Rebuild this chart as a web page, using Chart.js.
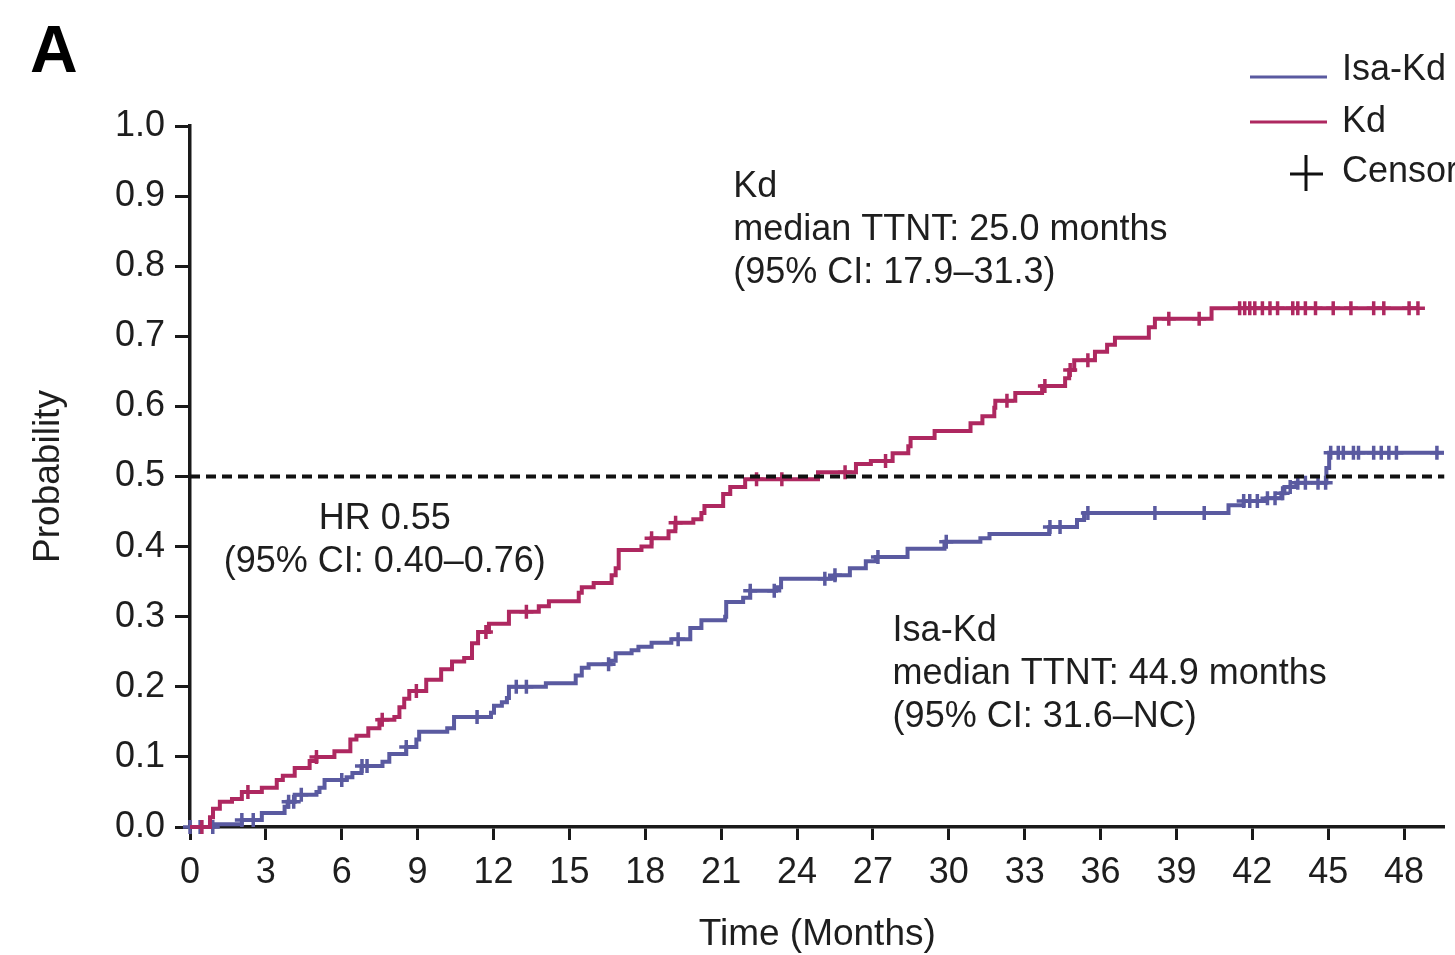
<!DOCTYPE html>
<html>
<head>
<meta charset="utf-8">
<script src="https://cdn.jsdelivr.net/npm/chart.js@4.4.1/dist/chart.umd.min.js"></script>
<style>
  html, body { margin: 0; background: #fff; }
</style>
</head>
<body>
<canvas id="grafico" width="1455" height="955"></canvas>
<script>
// tempos (meses) e probabilidade acumulada
const kdTempo = [0, 0.79, 0.91, 1.18, 1.66, 2.05, 2.84, 3.43, 3.67, 4.14, 4.73, 5.0, 5.71, 6.34, 6.58, 7.05, 7.49, 8.08, 8.28, 8.47,
  8.67, 9.34, 9.93, 10.36, 10.84, 11.15, 11.39, 11.82, 12.61, 13.79, 14.19, 15.37, 15.49, 15.96, 16.67, 16.83, 16.95, 17.85, 18.25, 18.92,
  19.19, 19.90, 20.22, 20.34, 21.08, 21.36, 21.95, 24.83, 26.33, 26.92, 27.78, 28.40, 28.49, 29.44, 30.86, 31.33, 31.80, 31.84, 32.63, 33.69,
  34.60, 34.76, 34.96, 35.78, 36.26, 36.57, 37.91, 38.15, 40.39, 48.55];
const kdProb = [0, 0.014, 0.026, 0.036, 0.040, 0.050, 0.056, 0.067, 0.073, 0.084, 0.094, 0.100, 0.108, 0.125, 0.130, 0.141, 0.153, 0.157, 0.171, 0.183,
  0.194, 0.210, 0.225, 0.236, 0.241, 0.262, 0.278, 0.290, 0.307, 0.315, 0.322, 0.334, 0.342, 0.348, 0.359, 0.369, 0.395, 0.400, 0.412, 0.422,
  0.434, 0.439, 0.448, 0.458, 0.475, 0.485, 0.496, 0.506, 0.518, 0.522, 0.533, 0.543, 0.555, 0.565, 0.576, 0.586, 0.598, 0.608, 0.619, 0.629,
  0.640, 0.652, 0.666, 0.678, 0.688, 0.698, 0.713, 0.725, 0.740, 0.740];

const isaTempo = [0, 0.91, 2.05, 2.84, 3.74, 3.86, 4.14, 5.0, 5.12, 5.32, 6.19, 6.42, 6.78, 7.61, 7.88, 8.55, 8.95, 9.06, 10.17, 10.44,
  11.9, 12.02, 12.33, 12.53, 12.61, 14.07, 15.25, 15.49, 15.76, 16.63, 16.83, 17.46, 17.73, 18.25, 19.03, 19.78, 20.22, 21.16, 21.2, 21.87,
  22.15, 23.17, 23.37, 25.5, 26.09, 26.72, 27.11, 28.37, 29.83, 31.25, 31.61, 33.97, 35.07, 35.35, 41.06, 41.66, 42.56, 43.15, 43.27, 43.74,
  44.93, 45.04, 49.58];
const isaProb = [0, 0.004, 0.010, 0.020, 0.029, 0.036, 0.046, 0.050, 0.056, 0.067, 0.071, 0.077, 0.087, 0.093, 0.104, 0.114, 0.125, 0.136, 0.141, 0.157,
  0.163, 0.173, 0.178, 0.184, 0.200, 0.205, 0.216, 0.227, 0.232, 0.237, 0.248, 0.252, 0.257, 0.263, 0.268, 0.284, 0.295, 0.300, 0.321, 0.327,
  0.337, 0.342, 0.354, 0.359, 0.369, 0.379, 0.385, 0.397, 0.407, 0.412, 0.418, 0.428, 0.438, 0.448, 0.459, 0.465, 0.469, 0.476, 0.485, 0.491,
  0.512, 0.534, 0.534];

// censuras (meses)
const kdCensura = [0.47, 2.29, 5.0, 7.6, 8.95, 11.7, 13.3, 18.25, 19.2, 22.4, 23.4, 25.9, 27.5, 32.3, 33.8, 34.8, 35.5, 38.7, 39.9,
  41.5, 41.7, 41.9, 42.1, 42.4, 42.7, 43.0, 43.6, 43.8, 44.1, 44.5, 45.2, 45.9, 46.8, 47.2, 48.2, 48.55];
const isaCensura = [0.0, 0.4, 0.9, 2.05, 2.5, 3.9, 4.1, 4.4, 6.0, 6.8, 7.0, 8.55, 11.35, 12.9, 13.3, 16.55, 19.3, 22.15, 23.1, 25.1,
  25.5, 27.2, 29.9, 34.0, 34.4, 35.5, 38.15, 40.1, 41.66, 41.9, 42.2, 42.6, 42.9, 43.2, 43.5, 43.8, 44.1, 44.6, 44.9, 45.1,
  45.4, 45.6, 46.0, 46.2, 46.8, 47.1, 47.4, 47.7, 49.3];

const mediana = 0.5;
const xMax = 49.6;

const corIsa = '#5a5aa0';
const corKd = '#ae2860';
const corTexto = '#1e1e1e';
const fonte = '"Liberation Sans", Arial, sans-serif';

function pontos(tempos, probs) {
  return tempos.map((t, i) => ({ x: t, y: probs[i] }));
}

// valor da curva em degrau no tempo t
function valorEm(tempos, probs, t) {
  let v = probs[0];
  for (let i = 0; i < tempos.length; i++) {
    if (tempos[i] <= t) v = probs[i];
  }
  return v;
}

function censuras(lista, tempos, probs) {
  return lista.map(t => ({ x: t, y: valorEm(tempos, probs, t) }));
}

const anotacoes = [
  { x: 21.48, y: 0.913, alinhar: 'left', linhas: ['Kd', 'median TTNT: 25.0 months', '(95% CI: 17.9\u201331.3)'] },
  { x: 7.7, y: 0.439, alinhar: 'center', linhas: ['HR 0.55', '(95% CI: 0.40\u20130.76)'] },
  { x: 27.78, y: 0.279, alinhar: 'left', linhas: ['Isa-Kd', 'median TTNT: 44.9 months', '(95% CI: 31.6\u2013NC)'] }
];

const textos = {
  id: 'textos',
  afterDraw(chart) {
    const { ctx } = chart;
    const x = chart.scales.x, y = chart.scales.y;
    ctx.save();
    ctx.fillStyle = '#000';
    ctx.font = 'bold 66px ' + fonte;
    ctx.textBaseline = 'alphabetic';
    ctx.textAlign = 'left';
    ctx.fillText('A', 30, 72);

    ctx.fillStyle = corTexto;
    ctx.font = '36px ' + fonte;
    ctx.textBaseline = 'middle';
    anotacoes.forEach(a => {
      ctx.textAlign = a.alinhar;
      const px = x.getPixelForValue(a.x);
      const py = y.getPixelForValue(a.y);
      a.linhas.forEach((linha, i) => ctx.fillText(linha, px, py + i * 43));
    });

    // legenda
    ctx.textAlign = 'left';
    ctx.lineWidth = 3;
    ctx.strokeStyle = corIsa;
    ctx.beginPath(); ctx.moveTo(1250, 77); ctx.lineTo(1327, 77); ctx.stroke();
    ctx.strokeStyle = corKd;
    ctx.beginPath(); ctx.moveTo(1250, 122); ctx.lineTo(1327, 122); ctx.stroke();
    ctx.strokeStyle = '#111';
    ctx.beginPath();
    ctx.moveTo(1290, 174); ctx.lineTo(1323, 174);
    ctx.moveTo(1306, 155); ctx.lineTo(1306, 191);
    ctx.stroke();
    ctx.fillText('Isa-Kd', 1342, 70);
    ctx.fillText('Kd', 1342, 122);
    ctx.fillText('Censor', 1342, 172);
    ctx.restore();
  }
};

new Chart(document.getElementById('grafico'), {
  type: 'line',
  data: {
    datasets: [
      {
        label: 'median',
        data: [{ x: 0, y: mediana }, { x: xMax, y: mediana }],
        borderColor: '#111',
        borderWidth: 4,
        borderDash: [10, 6],
        pointRadius: 0
      },
      {
        label: 'Kd',
        data: pontos(kdTempo, kdProb),
        borderColor: corKd,
        borderWidth: 4,
        stepped: true,
        pointRadius: 0,
        clip: false
      },
      {
        label: 'Isa-Kd',
        data: pontos(isaTempo, isaProb),
        borderColor: corIsa,
        borderWidth: 4,
        stepped: true,
        pointRadius: 0,
        clip: false
      },
      {
        type: 'scatter',
        label: 'Kd censor',
        data: censuras(kdCensura, kdTempo, kdProb),
        borderColor: corKd,
        backgroundColor: corKd,
        pointStyle: 'cross',
        pointRadius: 7,
        borderWidth: 3.5,
        showLine: false,
        clip: false
      },
      {
        type: 'scatter',
        label: 'Isa-Kd censor',
        data: censuras(isaCensura, isaTempo, isaProb),
        borderColor: corIsa,
        backgroundColor: corIsa,
        pointStyle: 'cross',
        pointRadius: 7,
        borderWidth: 3.5,
        showLine: false,
        clip: false
      }
    ]
  },
  options: {
    responsive: false,
    animation: false,
    layout: { padding: { top: 126, right: 7, left: 0, bottom: 0 } },
    plugins: {
      legend: { display: false },
      tooltip: { enabled: false }
    },
    font: { family: fonte },
    scales: {
      x: {
        type: 'linear',
        min: 0,
        max: xMax,
        afterFit(scale) { scale.height = 128; },
        border: { display: true, color: '#1a1a1a', width: 3.5 },
        grid: { drawOnChartArea: false, drawTicks: true, tickLength: 13, tickColor: '#1a1a1a', tickWidth: 3 },
        ticks: {
          stepSize: 3,
          includeBounds: false,
          autoSkip: false,
          maxRotation: 0,
          padding: 11,
          color: corTexto,
          font: { family: fonte, size: 36 }
        },
        title: {
          display: true,
          text: 'Time (Months)',
          color: corTexto,
          font: { family: fonte, size: 37, lineHeight: 1.1 },
          padding: { top: 0, bottom: 0 }
        }
      },
      y: {
        min: 0,
        max: 1,
        afterFit(scale) { scale.width = 190; },
        border: { display: true, color: '#1a1a1a', width: 3.5 },
        grid: { drawOnChartArea: false, drawTicks: true, tickLength: 15, tickColor: '#1a1a1a', tickWidth: 3 },
        ticks: {
          stepSize: 0.1,
          padding: 10,
          color: corTexto,
          font: { family: fonte, size: 36 },
          callback: v => v.toFixed(1)
        },
        title: {
          display: true,
          text: 'Probability',
          color: corTexto,
          font: { family: fonte, size: 37, lineHeight: 1.1 },
          padding: { top: 28, bottom: 0 }
        }
      }
    }
  },
  plugins: [textos]
});
</script>
</body>
</html>
